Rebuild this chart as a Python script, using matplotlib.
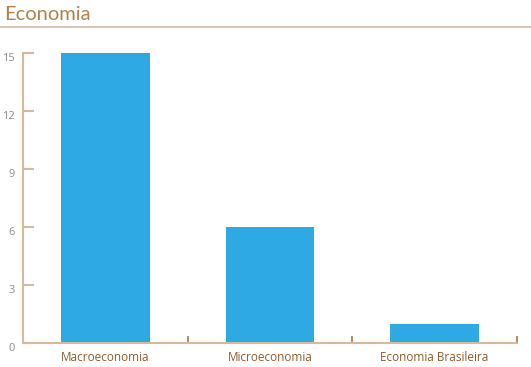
import matplotlib
matplotlib.use("Agg")
import matplotlib.pyplot as plt
import matplotlib.transforms as mtransforms
import numpy as np
from matplotlib.lines import Line2D

# data
categories = ["Macroeconomia", "Microeconomia", "Economia Brasileira"]
values = [15, 6, 1]
yticks = [0, 3, 6, 9, 12, 15]

bar_color = "#2EA9E3"
axis_color = "#D5BA9C"
label_color = "#8E5B2E"
title_color = "#B3804A"

plt.rcParams['font.family'] = ['Open Sans', 'DejaVu Sans']

fig = plt.figure(figsize=(5.31, 3.67), dpi=100)
ax = fig.add_axes([23/531, 1-343/367, (517-23)/531, (343-53)/367])

x = np.arange(len(categories))
ax.bar(x, values, width=0.537, color=bar_color, zorder=2)

ax.set_xlim(-0.5, len(categories) - 0.5)
ax.set_ylim(0, 15)

# y axis
ax.set_yticks(yticks)
ax.set_yticklabels([str(v) for v in yticks])
ax.tick_params(axis='y', direction='in', length=8, width=1.5, color=axis_color,
               labelcolor="#8C8C8C", labelsize=8, pad=6)
# labels sit a little below their tick in the original
shift = mtransforms.ScaledTranslation(0, -4/100, fig.dpi_scale_trans)
for lbl in ax.get_yticklabels():
    lbl.set_transform(lbl.get_transform() + shift)

# x axis: labels in the middle, tick marks on the boundaries
ax.set_xticks(x)
ax.set_xticklabels(categories)
ax.set_xticks(np.arange(len(categories) + 1) - 0.5, minor=True)
ax.tick_params(axis='x', which='major', length=0, labelcolor=label_color,
               labelsize=8.5, pad=6)
ax.tick_params(axis='x', which='minor', direction='in', length=5, width=1.2,
               color="#A9773F")

for side in ['top', 'right']:
    ax.spines[side].set_visible(False)
for side in ['left', 'bottom']:
    ax.spines[side].set_color(axis_color)
    ax.spines[side].set_linewidth(1.5)

# title and rule below it
fig.text(4/531, 1-19.5/367, "Economia", color=title_color, fontsize=14.5,
         family=['Lato', 'DejaVu Sans'],
         ha='left', va='baseline')
fig.add_artist(Line2D([0, 1], [1-26.5/367, 1-26.5/367], color="#CDBBA8", lw=1.2))

fig.savefig("out.png", dpi=100)
